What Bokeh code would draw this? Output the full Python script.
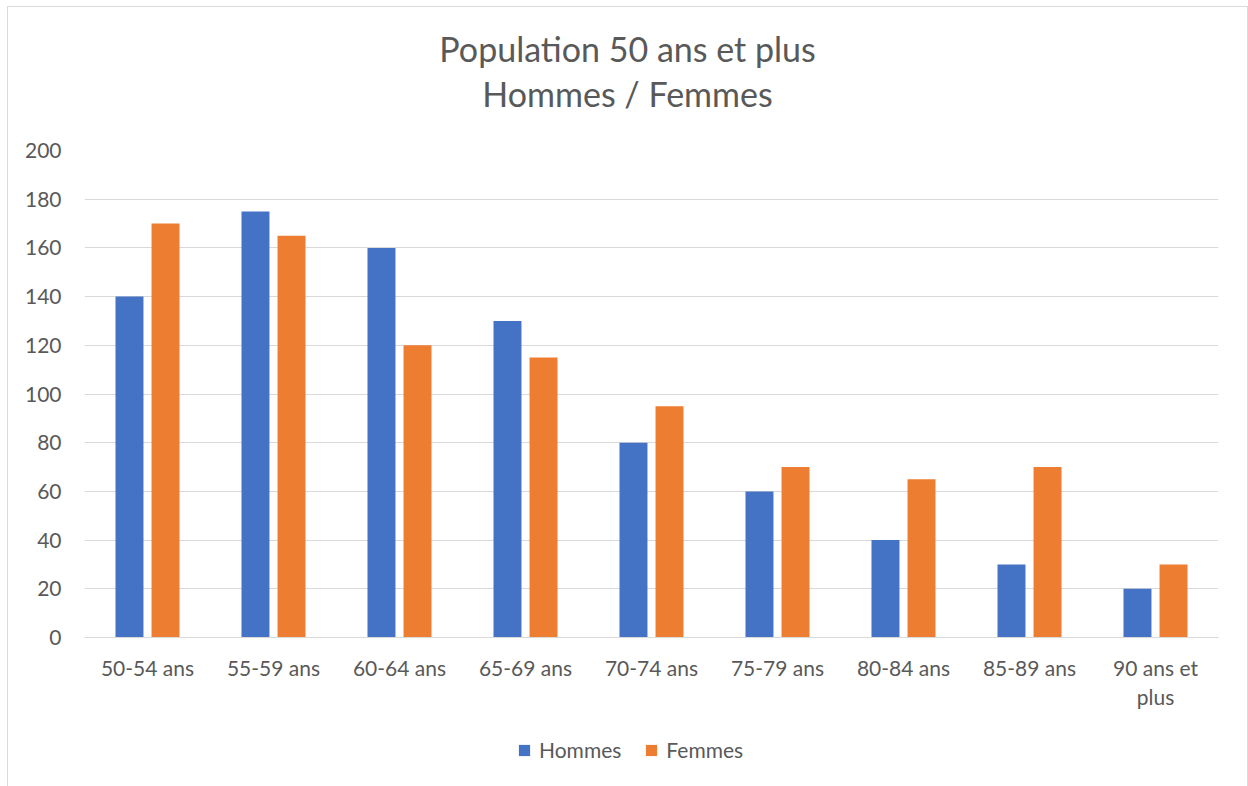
from bokeh.plotting import figure
from bokeh.models import (ColumnDataSource, FactorRange, Range1d, Legend, LegendItem, Label,
                          SingleIntervalTicker)
from bokeh.layouts import column
from bokeh.transform import dodge
from bokeh.embed import file_html
from bokeh.resources import INLINE

categories = ["50-54 ans", "55-59 ans", "60-64 ans", "65-69 ans", "70-74 ans",
              "75-79 ans", "80-84 ans", "85-89 ans", "90 ans et\nplus"]
hommes = [140, 175, 160, 130, 80, 60, 40, 30, 20]
femmes = [170, 165, 120, 115, 95, 70, 65, 70, 30]
series_names = ["Hommes", "Femmes"]
title_line1 = "Population 50 ans et plus"
title_line2 = "Hommes / Femmes"

FONT = "Lato"
GREY = "#595959"
BLUE = "#4472C4"
ORANGE = "#ED7D31"
GRID = "#D9D9D9"
LINE = "1px solid #D9D9D9"
W = 1239
FRAME_W = 1134
TITLE_H, MAIN_H, LEG_H = 123, 607, 49


def bare(fig):
    fig.outline_line_color = None
    fig.xaxis.visible = False
    fig.yaxis.visible = False
    fig.grid.visible = False
    return fig


src = ColumnDataSource(dict(cat=categories, hommes=hommes, femmes=femmes))

# ---- title strip (its frame is aligned with the main chart's frame) ----
pt = bare(figure(width=W, height=TITLE_H, x_range=Range1d(0, FRAME_W), y_range=Range1d(0, TITLE_H),
                 output_backend="svg", toolbar_location=None,
                 min_border_left=0, min_border_right=0, min_border_top=0, min_border_bottom=0))
for txt, yy in [(title_line1, 82), (title_line2, 37)]:
    pt.add_layout(Label(x=543, y=yy, text=txt, text_align="center", text_baseline="middle",
                        text_font=FONT, text_font_size="34px", text_color=GREY))

# ---- main chart ----
p = figure(x_range=FactorRange(*categories, range_padding=0), y_range=Range1d(0, 200),
           width=W, height=MAIN_H, output_backend="svg", toolbar_location=None,
           min_border_left=76, min_border_right=29, min_border_top=20, min_border_bottom=100)
p.outline_line_color = None

p.vbar(x=dodge("cat", -0.143, range=p.x_range), top="hommes", width=0.222, source=src,
       fill_color=BLUE, line_color=None)
p.vbar(x=dodge("cat", 0.143, range=p.x_range), top="femmes", width=0.222, source=src,
       fill_color=ORANGE, line_color=None)

p.yaxis.ticker = SingleIntervalTicker(interval=20)
p.yaxis.axis_line_color = None
p.yaxis.major_tick_line_color = None
p.yaxis.minor_tick_line_color = None
p.yaxis.major_tick_out = 0
p.yaxis.minor_tick_out = 0
p.yaxis.major_label_text_font = FONT
p.yaxis.major_label_text_font_size = "21px"
p.yaxis.major_label_text_color = GREY
p.yaxis.major_label_standoff = 23

p.xaxis.axis_line_color = GRID
p.xaxis.major_tick_line_color = None
p.xaxis.minor_tick_line_color = None
p.xaxis.major_tick_out = 0
p.xaxis.minor_tick_out = 0
p.xaxis.major_label_text_font = FONT
p.xaxis.major_label_text_font_size = "21px"
p.xaxis.major_label_text_color = GREY
p.xaxis.major_label_text_line_height = 1.17
p.xaxis.major_label_standoff = 17

p.xgrid.grid_line_color = None
p.ygrid.grid_line_color = GRID
p.ygrid.grid_line_width = 1

# ---- legend strip: same series, zero-width and far outside its y range (only the legend shows) ----
pl = bare(figure(width=W, height=LEG_H, x_range=FactorRange(*categories, range_padding=0),
                 y_range=Range1d(-1001, -1000), output_backend="svg", toolbar_location=None,
                 min_border_left=0, min_border_right=0, min_border_top=0, min_border_bottom=0))
lr1 = pl.vbar(x="cat", top="hommes", width=0, source=src, fill_color=BLUE, line_color=None)
lr2 = pl.vbar(x="cat", top="femmes", width=0, source=src, fill_color=ORANGE, line_color=None)
legend = Legend(items=[LegendItem(label=series_names[0], renderers=[lr1]),
                       LegendItem(label=series_names[1], renderers=[lr2])],
                orientation="horizontal", location=(433, 24),
                label_text_font=FONT, label_text_font_size="21px", label_text_color=GREY,
                glyph_width=14, glyph_height=14, label_height=14, spacing=23, label_standoff=8,
                padding=0, margin=0, border_line_color=None, background_fill_alpha=0)
pl.add_layout(legend)

layout = column(pt, p, pl, spacing=0,
                styles={"margin-left": "7px", "margin-top": "6px",
                        "border-left": LINE, "border-top": LINE, "border-right": LINE})

open("out.html", "w").write(file_html(layout, INLINE))
